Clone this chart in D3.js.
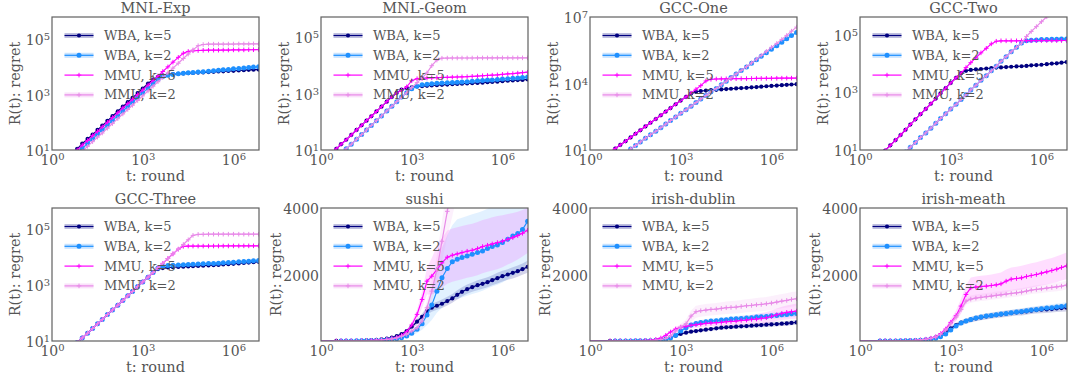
<!DOCTYPE html>
<html>
<head>
<meta charset="utf-8">
<script src="https://cdn.jsdelivr.net/npm/d3@7"></script>
<style>
  body { margin: 0; background: #fff; }
  svg { display: block; }
  text { font-family: "DejaVu Serif", serif; fill: #555; }
</style>
</head>
<body>
<div id="canvas"></div>
<script>
const W = 1072;
const H = 383;
const X_MAX = 7e6;

// t: round (sample points shared by every curve)
const rounds = [1, 1.5, 2.2, 3.2, 4.6, 6.8, 10, 15, 22, 32, 46, 68, 100, 150, 220, 320, 460, 680,
  1e3, 1.5e3, 2.2e3, 3.2e3, 4.6e3, 6.8e3, 1e4, 1.5e4, 2.2e4, 3.2e4, 4.6e4, 6.8e4,
  1e5, 1.5e5, 2.2e5, 3.2e5, 4.6e5, 6.8e5, 1e6, 1.5e6, 2.2e6, 3.2e6, 4.6e6, 6.8e6];

// MNL-Exp
const mnlExpWba5 = [1.7,2.5,3.6,5.3,7.6,11, 17,25,36,53,76,113, 166,250,365,530,760,1130, 1660,2500,3500,4400,4900,5200, 5500,5600,5800,5900,6000,6200, 6300,6500,6600,6800,6900,7100, 7200,7400,7600,7800,7900,8000];
const mnlExpWba2 = [1.15,1.7,2.5,3.7,5.3,7.8, 11.5,17,25,37,53,78, 115,170,250,370,530,780, 1150,1700,2500,3500,4500,5000, 5300,5600,5900,6100,6300,6500, 6700,6900,7200,7500,7800,8100, 8500,8800,9100,9500,9800,10000];
const mnlExpMmu5 = [1.5,2.2,3.3,4.7,6.8,10, 15,22,33,47,68,100, 148,220,330,470,680,1000, 1480,2200,3300,4700,6800,10000, 14800,22000,31000,36000,38000,39000, 39500,40000,40000,40000,40500,40500, 41000,41000,41000,41500,41500,42000];
const mnlExpMmu2 = [0.9,1.35,2,2.9,4.1,6.1, 9,13.5,20,29,41,61, 90,135,200,290,410,610, 900,1350,2000,2900,4100,6100, 9000,13500,20000,29000,41000,58000, 64000,66000,66000,66000,66000,66500, 66500,67000,67000,67000,67500,67500];

// MNL-Geom
const mnlGeomWba5 = [3.4,5,7.5,11,16,23, 34,51,75,109,156,230, 340,510,750,1050,1350,1550, 1650,1750,1800,1850,1900,1950, 2000,2050,2100,2150,2200,2250, 2300,2350,2400,2500,2550,2600, 2700,2800,2850,2950,3000,3100];
const mnlGeomWba2 = [1.6,2.4,3.5,5.1,7.4,11, 16,24,35,51,74,109, 160,240,350,510,740,1050, 1450,1800,2000,2100,2200,2300, 2350,2400,2450,2500,2550,2600, 2700,2800,2850,2950,3000,3100, 3200,3300,3400,3500,3650,3800];
const mnlGeomMmu5 = [3.4,5,7.5,11,16,23, 34,51,75,109,156,230, 340,510,750,1050,1300,1700, 2800,3300,3400,3500,3550,3600, 3650,3700,3750,3800,3850,3900, 4000,4100,4200,4300,4400,4500, 4700,4900,5000,5200,5400,5600];
const mnlGeomMmu2 = [1.6,2.4,3.5,5.1,7.4,11, 16,24,35,51,74,109, 160,240,350,510,740,1050, 1600,2400,3500,5300,9500,15000, 17500,17700,17800,17800,17800,17800, 17800,17900,17900,17900,17900,18000, 18000,18000,18000,18000,18000,18000];

// GCC-One
const gccOneWba5 = [1.7,2.5,3.7,5.4,7.8,11.6, 17,25,37,54,78,116, 170,250,370,540,780,1160, 1700,2500,3500,4200,4600,4800, 5000,5200,5400,5600,5800,6000, 6200,6400,6700,6900,7200,7500, 7800,8100,8400,8700,9000,9300];
const gccOneWba2 = [0.56,0.8,1.2,1.7,2.5,3.6, 5.2,7.6,11,16,23,34, 49,71,102,148,214,310, 450,650,950,1380,2000,2900, 4200,6000,8800,12700,18500,27000, 39000,56000,81000,118000,170000,247000, 355000,500000,724000,1050000,1480000,2000000];
const gccOneMmu5 = [1.7,2.5,3.7,5.4,7.8,11.6, 17,25,37,54,78,116, 170,250,370,540,780,1160, 1700,2500,3700,5500,8000,13000, 15500,16000,16200,16300,16400,16500, 16600,16700,16800,16900,17000,17100, 17200,17300,17400,17500,17500,17600];
const gccOneMmu2 = [0.56,0.8,1.2,1.7,2.5,3.6, 5.2,7.6,11,16,23,34, 49,71,102,148,214,310, 450,650,950,1380,2000,2900, 4200,6000,8800,12700,18500,27000, 39000,57500,85000,126000,186000,282000, 427000,646000,977000,1480000,2300000,3500000];

// GCC-Two
const gccTwoWba5 = [1.2,1.8,2.8,4.2,6.3,9.6, 14.5,22,33,50,76,115, 174,263,398,600,912,1380, 2090,3160,4570,5500,5900,6200, 6300,6600,6800,7100,7200,7400, 7600,7800,7900,8100,8500,8700, 8900,9300,9800,10000,10500,11000];
const gccTwoWba2 = [0.28,0.41,0.59,0.87,1.3,1.9, 2.7,4,5.9,8.5,12.5,18, 27,39,57,84,123,178, 263,380,560,810,1200,1740, 2570,3700,5500,7900,11700,17000, 25000,36000,50000,60000,63000,64500, 66000,66000,67600,67600,69000,69000];
const gccTwoMmu5 = [1.2,1.8,2.8,4.2,6.3,9.6, 14.5,22,33,50,76,115, 174,263,398,600,912,1380, 2090,3160,4570,7100,10500,15500, 23000,33000,47000,58000,60000,60000, 60000,60000,60500,60500,60500,61000, 61000,61000,61000,61000,61500,61500];
const gccTwoMmu2 = [0.28,0.41,0.59,0.87,1.3,1.9, 2.7,4,5.9,8.5,12.5,18, 27,39,57,84,123,178, 263,380,560,810,1200,1740, 2570,3700,5500,7900,11700,17000, 25000,36000,50000,85000,126000,186000, 275000,407000,600000,890000,1300000,1950000];

// GCC-Three
const gccThreeWba5 = [1.3,1.9,2.8,4.1,5.9,8.8, 12.9,19,28,41,59,88, 129,190,280,410,590,880, 1290,1900,2800,3700,4000,4200, 4300,4400,4500,4600,4700,4800, 4900,5000,5100,5200,5400,5500, 5700,5900,6100,6300,6500,6700];
const gccThreeWba2 = [1.3,1.9,2.8,4.1,5.9,8.8, 12.9,19,28,41,59,88, 129,190,280,410,590,880, 1290,1900,2800,4000,4700,5000, 5100,5200,5300,5400,5500,5600, 5700,5800,5900,6000,6200,6300, 6500,6700,6900,7100,7300,7500];
const gccThreeMmu5 = [1.3,1.9,2.8,4.1,5.9,8.8, 12.9,19,28,41,59,88, 129,190,280,410,590,880, 1290,1900,2800,4100,5900,8800, 12900,19000,24000,24500,24500,24500, 24500,24500,24600,24600,24700,24700, 24800,24800,24900,24900,25000,25000];
const gccThreeMmu2 = [1.3,1.9,2.8,4.1,5.9,8.8, 12.9,19,28,41,59,88, 129,190,280,410,590,880, 1290,1900,2800,4100,5900,8800, 12900,19000,28000,41000,59000,64000, 64500,65000,65000,65000,65000,65000, 65000,65000,65000,65000,65000,65000];

// sushi (mean and spread)
const sushiWba5 = [0,0,0,1,2,3, 5,8,12,18,25,35, 50,70,100,150,210,300, 430,580,730,900,1000,1060, 1120,1200,1280,1390,1480,1560, 1620,1680,1720,1770,1830,1890, 1950,2000,2050,2100,2160,2230];
const sushiWba2 = [0,0,0,0,1,2, 3,4,6,10,14,18, 25,35,50,70,100,150, 230,350,520,780,1080,1500, 1900,2180,2380,2460,2510,2560, 2610,2660,2710,2780,2840,2890, 2960,3060,3160,3230,3350,3600];
const sushiMmu5 = [0,0,0,1,2,3, 3,5,8,12,18,25, 35,50,75,110,170,280, 480,800,1250,1800,1950,2150, 2350,2520,2580,2620,2660,2700, 2730,2780,2840,2880,2920,2960, 3000,3060,3110,3170,3240,3330];
const sushiMmu2 = [0,0,0,1,1,2, 3,5,7,10,15,22, 30,45,65,95,140,200, 300,400,600,1000,1500,2150, 3000,3900,4700,5500, null,null,null,null,null,null, null,null,null,null,null,null,null,null];
const sushiWba5Sd = [0,0,0,0,0,0, 1,2,3,4,5,7, 10,14,20,30,40,55, 70,85,100,110,120,120, 130,130,130,140,140,140, 140,150,150,150,150,160, 160,160,170,170,170,180];
const sushiWba2Sd = [0,0,0,0,0,0, 0,1,2,3,4,5, 7,10,14,20,30,45, 70,110,180,300,450,650, 900,1000,1100,1200,1200,1200, 1200,1200,1200,1200,1200,1200, 1200,1200,1200,1200,1200,1200];
const sushiMmu5Sd = [0,0,0,0,0,0, 0,1,2,3,4,6, 8,12,18,25,40,60, 100,150,250,400,550,700, 750,800,800,800,800,800, 800,800,800,800,800,800, 780,760,740,720,700,680];
const sushiMmu2Sd = [0,0,0,0,0,0, 0,1,1,2,3,4, 6,9,13,19,28,40, 60,90,140,220,320,430, 600,780,950,1100, null,null,null,null,null,null, null,null,null,null,null,null,null,null];

// irish-dublin
const dublinWba5 = [0,0,0,0,1,1, 2,3,4,5,8,11, 15,25,40,70,110,160, 210,250,280,300,320,340, 360,380,400,410,420,430, 440,450,460,470,480,490, 500,510,520,530,545,560];
const dublinWba2 = [0,0,0,0,0,1, 2,2,3,4,6,8, 10,15,25,50,90,170, 300,400,480,530,560,580, 600,610,630,640,660,670, 680,690,700,720,730,740, 760,770,790,800,820,830];
const dublinMmu5 = [0,0,0,0,1,2, 3,4,6,8,12,20, 30,50,90,170,270,360, 410,440,470,490,510,530, 540,550,560,580,590,600, 620,630,650,660,680,700, 740,790,830,860,880,900];
const dublinMmu2 = [0,0,0,0,1,1, 2,3,4,5,8,11, 15,25,45,80,150,300, 420,520,750,880,910,930, 950,960,980,1000,1010,1020, 1040,1060,1070,1090,1100,1120, 1140,1170,1200,1220,1250,1270];
const dublinWba5Sd = [0,0,0,0,0,0, 0,1,1,2,2,3, 4,6,9,14,20,28, 35,40,45,50,50,55, 55,55,60,60,60,60, 60,65,65,65,65,70, 70,70,70,75,75,75];
const dublinWba2Sd = [0,0,0,0,0,0, 0,1,1,1,2,3, 4,5,8,12,20,35, 50,60,70,70,75,75, 75,80,80,80,80,80, 85,85,85,90,90,90, 90,95,95,95,100,100];
const dublinMmu5Sd = [0,0,0,0,0,0, 1,1,2,2,3,5, 7,10,18,30,50,65, 75,80,85,90,95,100, 100,105,110,115,120,125, 130,135,140,150,160,170, 180,190,200,210,220,230];
const dublinMmu2Sd = [0,0,0,0,0,0, 0,1,1,2,2,3, 4,6,10,18,35,70, 100,130,170,180,180,180, 180,180,185,185,190,190, 195,195,200,200,205,205, 210,210,215,215,220,220];

// irish-meath
const meathWba5 = [0,0,0,0,1,2, 3,4,6,10,14,20, 30,45,70,110,170,260, 380,480,550,600,640,680, 710,740,760,780,800,820, 840,860,870,890,910,930, 940,950,960,980,990,1000];
const meathWba2 = [0,0,0,0,1,1, 2,3,5,8,12,17, 25,38,55,80,130,210, 330,450,540,600,650,690, 720,750,770,790,810,830, 850,870,890,910,930,950, 970,990,1000,1020,1040,1060];
const meathMmu5 = [0,0,0,0,1,2, 3,5,7,10,15,23, 35,55,85,130,220,360, 560,760,1050,1400,1600,1620, 1640,1650,1670,1690,1720,1800, 1860,1880,1900,1940,1970,2000, 2040,2080,2120,2160,2210,2260];
const meathMmu2 = [0,0,0,0,1,2, 3,4,6,9,14,21, 32,50,80,120,200,330, 520,720,950,1200,1260,1290, 1310,1330,1350,1370,1390,1410, 1430,1450,1470,1500,1530,1550, 1570,1590,1610,1630,1650,1680];
const meathWba5Sd = [0,0,0,0,0,0, 1,1,1,2,3,4, 6,9,14,20,30,45, 60,70,75,80,80,85, 85,90,90,90,90,95, 95,95,100,100,100,100, 105,105,105,110,110,110];
const meathWba2Sd = [0,0,0,0,0,0, 0,1,1,2,3,4, 5,8,12,18,28,40, 55,65,70,75,80,80, 85,85,85,90,90,90, 90,95,95,95,100,100, 100,100,105,105,105,110];
const meathMmu5Sd = [0,0,0,0,0,0, 1,1,2,2,3,5, 7,11,17,26,45,70, 110,160,220,280,310,320, 320,330,330,340,340,350, 350,350,360,360,370,370, 370,380,380,390,390,400];
const meathMmu2Sd = [0,0,0,0,0,0, 1,1,1,2,3,4, 6,9,14,22,35,55, 80,100,110,110,110,110, 110,110,110,115,115,115, 115,120,120,120,120,125, 125,125,130,130,130,130];

const seriesNames = ['WBA, k=5', 'WBA, k=2', 'MMU, k=5', 'MMU, k=2'];
const seriesColors = ['#000080', '#1e90ff', '#ff00ff', '#e88ae8'];
const seriesMarkers = ['dot', 'dot', 'plus', 'plus'];

const xTicks = [1, 1e3, 1e6];
const logTicks = [10, 1e3, 1e5];
const logTicksWide = [10, 1e4, 1e7];
const linTicks = [2000, 4000];

const panels = [
  { title: 'MNL-Exp', log: true, yMax: 6.3e5, yTicks: logTicks, series: [mnlExpWba5, mnlExpWba2, mnlExpMmu5, mnlExpMmu2] },
  { title: 'MNL-Geom', log: true, yMax: 5e5, yTicks: logTicks, series: [mnlGeomWba5, mnlGeomWba2, mnlGeomMmu5, mnlGeomMmu2] },
  { title: 'GCC-One', log: true, yMax: 1e7, yTicks: logTicksWide, series: [gccOneWba5, gccOneWba2, gccOneMmu5, gccOneMmu2] },
  { title: 'GCC-Two', log: true, yMax: 4e5, yTicks: logTicks, series: [gccTwoWba5, gccTwoWba2, gccTwoMmu5, gccTwoMmu2] },
  { title: 'GCC-Three', log: true, yMax: 5.6e5, yTicks: logTicks, series: [gccThreeWba5, gccThreeWba2, gccThreeMmu5, gccThreeMmu2] },
  { title: 'sushi', log: false, yMax: 4000, yTicks: linTicks, series: [sushiWba5, sushiWba2, sushiMmu5, sushiMmu2],
    spread: [sushiWba5Sd, sushiWba2Sd, sushiMmu5Sd, sushiMmu2Sd] },
  { title: 'irish-dublin', log: false, yMax: 4000, yTicks: linTicks, series: [dublinWba5, dublinWba2, dublinMmu5, dublinMmu2],
    spread: [dublinWba5Sd, dublinWba2Sd, dublinMmu5Sd, dublinMmu2Sd] },
  { title: 'irish-meath', log: false, yMax: 4000, yTicks: linTicks, series: [meathWba5, meathWba2, meathMmu5, meathMmu2],
    spread: [meathWba5Sd, meathWba2Sd, meathMmu5Sd, meathMmu2Sd] },
];

const colLeft = [52, 321, 590, 860];
const rowTop = [17, 208];
const PW = 207;
const PH = 133;

const svg = d3.select('#canvas').append('svg').attr('width', W).attr('height', H);

// "10" with a raised exponent
const powerLabel = (sel) => sel.each(function (v) {
  const t = d3.select(this).text('');
  t.append('tspan').text('10');
  t.append('tspan').attr('dy', '-0.5em').attr('font-size', '10px').text(Math.round(Math.log10(v)));
});

panels.forEach((p, i) => {
  const left = colLeft[i % 4];
  const top = rowTop[Math.floor(i / 4)];
  const x = d3.scaleLog().domain([1, X_MAX]).range([left, left + PW]);
  const y = p.log
    ? d3.scaleLog().domain([10, p.yMax]).range([top + PH, top])
    : d3.scaleLinear().domain([0, p.yMax]).range([top + PH, top]);
  const g = svg.append('g');

  g.append('clipPath').attr('id', `clip${i}`)
    .append('rect').attr('x', left).attr('y', top).attr('width', PW).attr('height', PH);
  const plot = g.append('g').attr('clip-path', `url(#clip${i})`);

  // spread bands
  if (p.spread) {
    p.series.forEach((vals, s) => {
      const sd = p.spread[s];
      const area = d3.area()
        .defined((d, j) => vals[j] != null)
        .x((d, j) => x(rounds[j]))
        .y0((d, j) => y(Math.max(0, vals[j] - sd[j])))
        .y1((d, j) => y(vals[j] + sd[j]));
      plot.append('path').datum(vals).attr('d', area)
        .attr('fill', seriesColors[s]).attr('fill-opacity', s === 0 ? 0.17 : 0.13);
    });
  }

  p.series.forEach((vals, s) => {
    const color = seriesColors[s];
    const line = d3.line()
      .defined((d, j) => vals[j] != null)
      .x((d, j) => x(rounds[j]))
      .y((d, j) => y(vals[j]));
    plot.append('path').datum(vals).attr('d', line)
      .attr('fill', 'none').attr('stroke', color).attr('stroke-width', 1.2);

    const pts = vals.map((v, j) => ({ t: rounds[j], v })).filter(d => d.v != null && d.v > 0);
    if (seriesMarkers[s] === 'dot') {
      plot.selectAll(null).data(pts).enter().append('circle')
        .attr('cx', d => x(d.t)).attr('cy', d => y(d.v))
        .attr('r', s === 0 ? 2.1 : 2.5).attr('fill', color);
    } else {
      plot.selectAll(null).data(pts).enter().append('path')
        .attr('transform', d => `translate(${x(d.t)},${y(d.v)})`)
        .attr('d', 'M-2.3,0H2.3M0,-2.3V2.3')
        .attr('stroke', color).attr('stroke-width', 1);
    }
  });

  // legend
  seriesNames.forEach((name, s) => {
    const ly = top + 18.5 + s * 19.8;
    const lg = g.append('g');
    if (s !== 2) {
      lg.append('rect').attr('x', left + 12.5).attr('y', ly - 2.5).attr('width', 29).attr('height', 5)
        .attr('fill', seriesColors[s]).attr('opacity', 0.25);
    }
    lg.append('line').attr('x1', left + 12.5).attr('x2', left + 41.5).attr('y1', ly).attr('y2', ly)
      .attr('stroke', seriesColors[s]).attr('stroke-width', 1.2);
    if (seriesMarkers[s] === 'dot') {
      lg.append('circle').attr('cx', left + 27).attr('cy', ly).attr('r', s === 0 ? 2.1 : 2.5).attr('fill', seriesColors[s]);
    } else {
      lg.append('path').attr('transform', `translate(${left + 27},${ly})`)
        .attr('d', 'M-2.3,0H2.3M0,-2.3V2.3').attr('stroke', seriesColors[s]).attr('stroke-width', 1);
    }
    lg.append('text').attr('x', left + 52).attr('y', ly + 4.5)
      .attr('font-size', '13px').text(name);
  });

  // frame
  g.append('rect').attr('x', left).attr('y', top).attr('width', PW).attr('height', PH)
    .attr('fill', 'none').attr('stroke', '#606060').attr('stroke-width', 1.2);

  // axes
  const xAxis = g.append('g').attr('transform', `translate(0,${top + PH})`)
    .call(d3.axisBottom(x).tickValues(xTicks).tickSize(0).tickPadding(4));
  xAxis.select('.domain').remove();
  xAxis.selectAll('text').attr('font-family', '"DejaVu Serif", serif').attr('font-size', '14px')
    .attr('fill', '#555').attr('dy', '0.75em').call(powerLabel);

  const yAxis = g.append('g').attr('transform', `translate(${left},0)`)
    .call(d3.axisLeft(y).tickValues(p.yTicks).tickSize(0).tickPadding(2).tickFormat(d3.format('d')));
  yAxis.select('.domain').remove();
  const yText = yAxis.selectAll('text').attr('font-family', '"DejaVu Serif", serif').attr('font-size', '14px')
    .attr('fill', '#555').attr('dy', '0.4em');
  if (p.log) yText.call(powerLabel);

  g.append('text').attr('x', left + PW / 2).attr('y', top - 4).attr('text-anchor', 'middle')
    .attr('font-size', '14.5px').text(p.title);
  g.append('text').attr('x', left + PW / 2).attr('y', top + PH + 31).attr('text-anchor', 'middle')
    .attr('font-size', '14.5px').text('t: round');
  const ylx = left - (p.log ? 36 : 44) + 4;
  g.append('text').attr('transform', `translate(${ylx},${top + PH / 2}) rotate(-90)`)
    .attr('text-anchor', 'middle').attr('font-size', '14.5px').text('R(t): regret');
});
</script>
</body>
</html>
